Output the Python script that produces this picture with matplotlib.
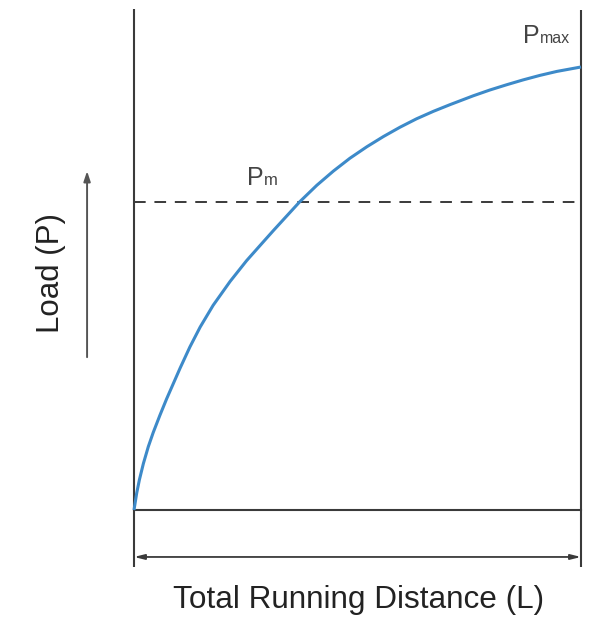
import matplotlib
matplotlib.use("Agg")
import matplotlib.pyplot as plt

# curve: distance (0-100) vs load (0-100)
distance = [0, 0.6, 1.2, 2.1, 3.2, 4.3, 5.8, 7.3, 10.3, 12.5, 14.8,
            17.7, 21.5, 25.2, 28.9, 31.2, 37.1, 40.9, 44.6, 48.3, 52.1,
            55.8, 59.5, 63.2, 67.0, 70.7, 75.9, 79.6, 83.4, 87.1, 90.8,
            94.6, 100]
load = [0, 3.8, 6.8, 10.5, 14.3, 17.5, 21.4, 25.1, 32.0, 36.8, 41.3,
        46.2, 51.6, 56.3, 60.5, 63.1, 69.6, 73.3, 76.5, 79.4, 82.0,
        84.3, 86.4, 88.3, 90.0, 91.5, 93.5, 94.8, 96.0, 97.1, 98.1,
        99.0, 100]
p_m = 69.5
p_max = 100

x_label = "Total Running Distance (L)"
y_label = "Load (P)"

line_col = "#3a3a3a"
curve_col = "#3d8ac9"
text_font = ["Liberation Sans", "DejaVu Sans"]
small_font = ["Liberation Sans Narrow", "Liberation Sans", "DejaVu Sans"]

fig = plt.figure(figsize=(5.89, 6.17), dpi=100)
ax = fig.add_axes([0, 0, 1, 1])
ax.set_xlim(-29.98, 101.79)
ax.set_ylim(-24.15, 115.12)
ax.axis("off")

# frame lines
ax.plot([0, 0], [-12.9, 113.1], color=line_col, lw=1.5, solid_capstyle="butt")
ax.plot([100, 100], [-12.9, 112.9], color=line_col, lw=1.5, solid_capstyle="butt")
ax.plot([0, 100], [0, 0], color=line_col, lw=1.5)

# Pm dashed level
ax.plot([0, 100], [p_m, p_m], color=line_col, lw=1.4, dashes=(6, 4.5))

# load curve
ax.plot(distance, load, color=curve_col, lw=2.2, solid_capstyle="butt",
        solid_joinstyle="round")

# distance double arrow
ax.annotate("", xy=(100, -10.6), xytext=(0, -10.6),
            arrowprops=dict(arrowstyle="<|-|>,head_length=0.6,head_width=0.15",
                            color=line_col, lw=1.3, shrinkA=0, shrinkB=0))
# load arrow
ax.annotate("", xy=(-10.5, 76.5), xytext=(-10.5, 34.5),
            arrowprops=dict(arrowstyle="-|>,head_length=0.6,head_width=0.2",
                            color="#555555", lw=1.4, shrinkA=0, shrinkB=0))

ax.text(50.3, -22.1, x_label, ha="center", va="baseline", fontsize=22.7,
        family=text_font, color="#222222")
ax.text(-18.6, 53.4, y_label, ha="center", va="center", fontsize=22.5,
        rotation=90, family=text_font, color="#222222")

# Pm label
ax.text(25.3, 73.4, "P", ha="left", va="baseline", fontsize=18,
        family=small_font, color="#444444")
ax.text(29.1, 73.4, "m", ha="left", va="baseline", fontsize=12,
        family=small_font, color="#444444")
# Pmax label
ax.text(87.0, 105.4, "P", ha="left", va="baseline", fontsize=18,
        family=small_font, color="#444444")
ax.text(90.8, 105.4, "max", ha="left", va="baseline", fontsize=11.5,
        family=small_font, color="#444444")

fig.savefig("out.png", dpi=100)
